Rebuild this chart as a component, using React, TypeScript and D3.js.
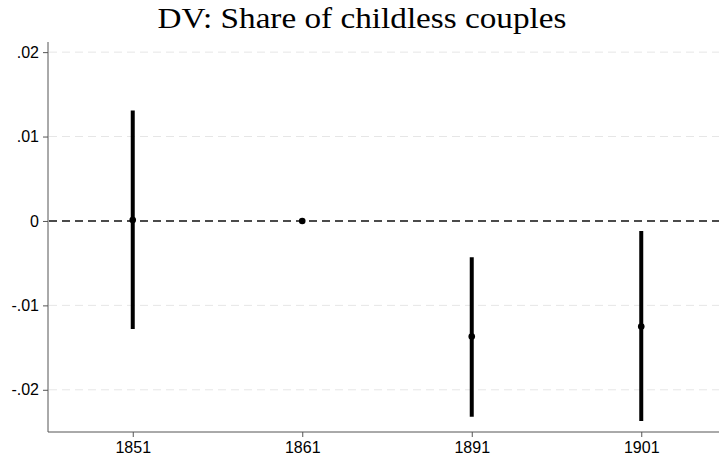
import React, { useEffect, useRef } from "react";
import * as d3 from "d3";

const years = ["1851", "1861", "1891", "1901"];
const estimates = [0.0001, 0, -0.0137, -0.0125];
const lower = [-0.0128, null, -0.0232, -0.0237];
const upper = [0.0131, null, -0.0043, -0.0012];
const yTicks = [0.02, 0.01, 0, -0.01, -0.02];
const yTickLabels = [".02", ".01", "0", "-.01", "-.02"];

const W = 719;
const H = 463;

const App = () => {
  const svgRef = useRef<SVGSVGElement>(null);

  useEffect(() => {
    const svg = d3.select(svgRef.current);
    svg.selectAll("*").remove();

    const left = 48;
    const top = 42;
    const bottom = 432;

    const x = d3.scalePoint().domain(years).range([left, left + 169.5 * 4]).padding(0.5);
    const y = d3.scaleLinear().domain([-0.025, 0.0212]).range([bottom, top]);

    // title
    svg
      .append("text")
      .attr("x", 362)
      .attr("y", 28)
      .attr("text-anchor", "middle")
      .attr("textLength", 409)
      .attr("lengthAdjust", "spacingAndGlyphs")
      .style("font-family", "'Liberation Serif', serif")
      .style("font-size", "29px")
      .text("DV: Share of childless couples");

    // light gridlines
    svg
      .selectAll("line.grid")
      .data(yTicks.filter((d) => d !== 0))
      .enter()
      .append("line")
      .attr("x1", left + 1)
      .attr("x2", W)
      .attr("y1", (d) => y(d))
      .attr("y2", (d) => y(d))
      .attr("stroke", "#e6e6e6")
      .attr("stroke-width", 1)
      .attr("stroke-dasharray", "8,5");

    // zero reference line
    svg
      .append("line")
      .attr("x1", left + 1)
      .attr("x2", W)
      .attr("y1", y(0))
      .attr("y2", y(0))
      .attr("stroke", "#111")
      .attr("stroke-width", 1.5)
      .attr("stroke-dasharray", "8,5");

    // y axis
    const yAxis = d3
      .axisLeft(y)
      .tickValues(yTicks)
      .tickSize(5)
      .tickPadding(4)
      .tickFormat((_, i) => yTickLabels[i]);
    const gy = svg.append("g").attr("transform", `translate(${left},0)`).call(yAxis);
    gy.select(".domain").attr("d", `M0,${top}V${bottom}`).attr("stroke", "#555");
    gy.selectAll(".tick line").attr("stroke", "#555");
    gy.selectAll(".tick text")
      .style("font-family", "'Liberation Sans', Arial, sans-serif")
      .style("font-size", "16px")
      .attr("fill", "#000");

    // x axis
    const xAxis = d3.axisBottom(x).tickSize(5).tickPadding(5);
    const gx = svg.append("g").attr("transform", `translate(0,${bottom})`).call(xAxis);
    gx.select(".domain").attr("d", `M${left},0H${W}`).attr("stroke", "#555");
    gx.selectAll(".tick line").attr("stroke", "#555");
    gx.selectAll(".tick text")
      .style("font-family", "'Liberation Sans', Arial, sans-serif")
      .style("font-size", "16px")
      .attr("fill", "#000");

    // confidence intervals
    const ci = years
      .map((yr, i) => ({ yr, lo: lower[i], hi: upper[i] }))
      .filter((d) => d.lo !== null && d.hi !== null);
    svg
      .selectAll("line.ci")
      .data(ci)
      .enter()
      .append("line")
      .attr("x1", (d) => x(d.yr)!)
      .attr("x2", (d) => x(d.yr)!)
      .attr("y1", (d) => y(d.lo as number))
      .attr("y2", (d) => y(d.hi as number))
      .attr("stroke", "#000")
      .attr("stroke-width", 4);

    // point estimates
    svg
      .selectAll("circle")
      .data(estimates)
      .enter()
      .append("circle")
      .attr("cx", (_, i) => x(years[i])!)
      .attr("cy", (d) => y(d))
      .attr("r", 3.3)
      .attr("fill", "#000");
  }, []);

  return (
    <svg
      ref={svgRef}
      width={W}
      height={H}
      style={{ position: "absolute", left: 0, top: 0, background: "#fff" }}
    ></svg>
  );
};

export default App;
